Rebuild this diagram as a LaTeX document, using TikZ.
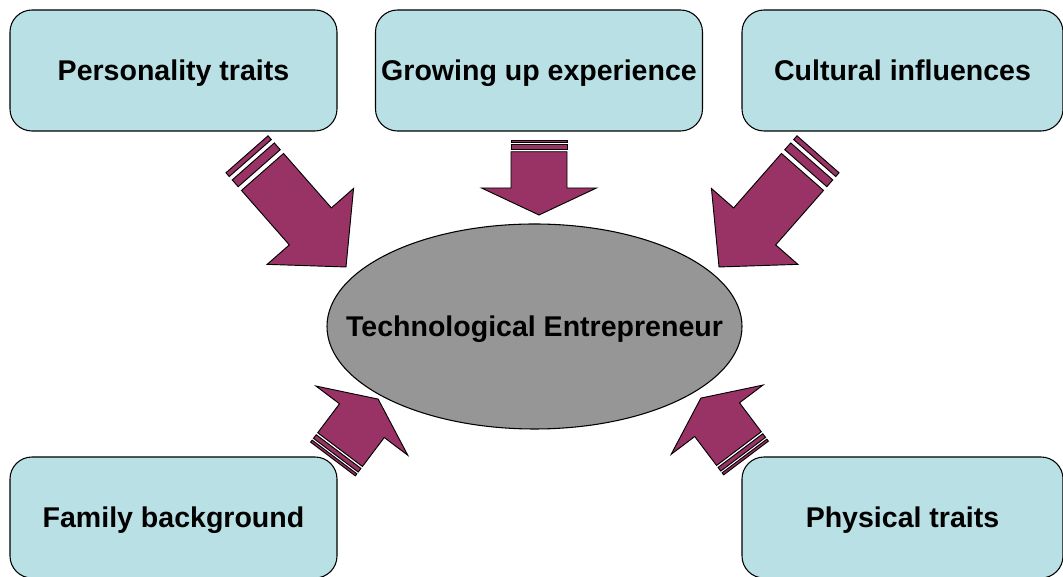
\documentclass[tikz,border=0pt]{standalone}
\usepackage{fontspec}
\setmainfont{Liberation Sans}
\usetikzlibrary{shapes.geometric}
\definecolor{boxcyan}{RGB}{185,224,228}
\definecolor{plum}{RGB}{153,51,102}
\definecolor{midgrey}{RGB}{150,150,150}

% block arrow with two stripes at its tail, pointing along +x before rotation
\newcommand{\stripedarrow}[3]{%
  \begin{scope}[shift={#1},rotate=#2,xscale=#3]
    \draw[arr] (0,-28) rectangle (5,28);
    \draw[arr] (9.5,-28) rectangle (18.5,28);
    \draw[arr] (23.5,-28) -- (96,-28) -- (96,-57.5) -- (150,0) -- (96,57.5) -- (96,28) -- (23.5,28) -- cycle;
  \end{scope}}

\begin{document}
\begin{tikzpicture}[x=0.75pt,y=0.75pt,
  label/.style={font=\fontsize{21.4pt}{25pt}\selectfont\bfseries,
    text height=15.4pt,text depth=0pt},
  box/.style={label,draw,line width=0.8pt,fill=boxcyan,rounded corners=16.5pt,
    minimum width=245.25pt,minimum height=90.75pt},
  centre/.style={draw,line width=0.8pt,fill=midgrey,ellipse,inner sep=0pt,
    minimum width=311.25pt,minimum height=153.75pt},
  arr/.style={draw,line width=0.7pt,fill=plum,line join=miter}]
  \useasboundingbox (0,0) rectangle (1063,577);
  \node[box] (personality) at (173.5,506.5) {Personality traits};
  \node[box] (growing) at (539,506.5) {Growing up experience};
  \node[box,minimum width=240.75pt] (cultural) at (902.5,506.5) {Cultural influences};
  \node[box] (family) at (173.5,59.5) {Family background};
  \node[box,minimum width=240.75pt] (physical) at (902.5,59.5) {Physical traits};
  % arrows towards the centre
  \stripedarrow{(247,422.7)}{-48.7}{1}
  \stripedarrow{(539,437)}{-90}{0.5}
  \stripedarrow{(818,422.7)}{-131.3}{1}
  \stripedarrow{(333,118)}{53}{0.5}
  \stripedarrow{(746,119)}{127}{0.5}
  \node[centre] (entrepreneur) at (534.5,250.5) {};
  \node[label] (entrepreneurtext) at (entrepreneur.center) {Technological Entrepreneur};
\end{tikzpicture}
\end{document}
